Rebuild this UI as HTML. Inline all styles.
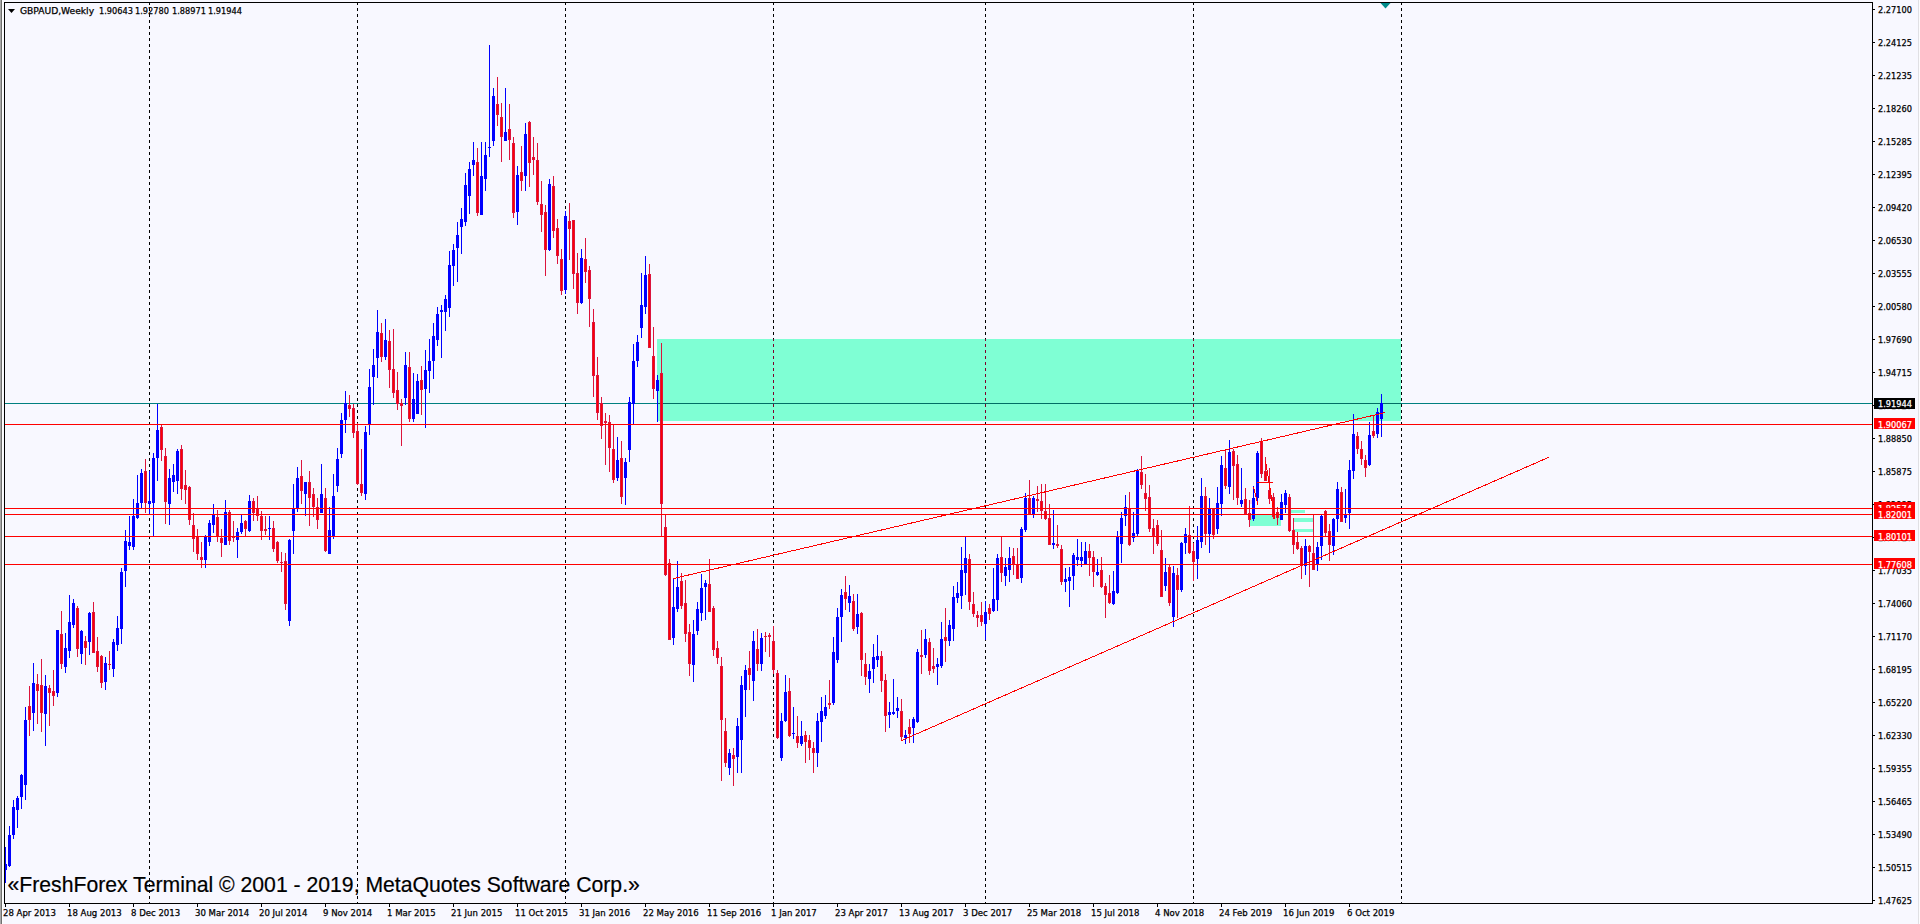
<!DOCTYPE html><html><head><meta charset="utf-8"><title>GBPAUD,Weekly</title><style>
html,body{margin:0;padding:0;background:#F8F8FF;overflow:hidden}
#c{position:relative;width:1920px;height:924px;background:#F8F8FF;overflow:hidden;font-family:"Liberation Sans",sans-serif}
svg{position:absolute;left:0;top:0}
.s{position:absolute;font-family:"DejaVu Sans Condensed","Liberation Sans",sans-serif;font-size:9.5px;line-height:12px;height:12px;white-space:pre;transform-origin:0 0;display:block;-webkit-text-stroke:.25px currentColor}
.n{transform:scaleX(.96)}.a{transform:scaleX(.96)}.g{transform:scaleX(1.07)}.d{transform:scaleX(1)}
.bx{position:absolute;left:1874px;width:41px;height:11px}
#wm{position:absolute;left:7.5px;top:873px;-webkit-text-stroke:.2px #000;font-size:21.2px;line-height:24px;white-space:pre;color:#000}
</style></head><body><div id="c">
<svg width="1920" height="924" viewBox="0 0 1920 924" shape-rendering="crispEdges">
<rect x="657" y="339" width="744" height="82" fill="#7FFFD4"/>
<rect x="1250" y="515" width="31" height="11" fill="#7FFFD4"/>
<rect x="1291" y="510" width="14" height="3" fill="#7FFFD4"/>
<rect x="1294" y="518" width="19" height="4" fill="#7FFFD4"/>
<rect x="1294" y="529" width="19" height="3" fill="#7FFFD4"/>
<rect x="1250" y="500" width="2" height="4" fill="#FAD4DC"/>
<line x1="149.5" y1="2" x2="149.5" y2="903" stroke="#000" stroke-dasharray="3 3"/>
<line x1="357.5" y1="2" x2="357.5" y2="903" stroke="#000" stroke-dasharray="3 3"/>
<line x1="565.5" y1="2" x2="565.5" y2="903" stroke="#000" stroke-dasharray="3 3"/>
<line x1="773.5" y1="2" x2="773.5" y2="903" stroke="#000" stroke-dasharray="3 3"/>
<line x1="985.5" y1="2" x2="985.5" y2="903" stroke="#000" stroke-dasharray="3 3"/>
<line x1="1193.5" y1="2" x2="1193.5" y2="903" stroke="#000" stroke-dasharray="3 3"/>
<line x1="1401.5" y1="2" x2="1401.5" y2="903" stroke="#000" stroke-dasharray="3 3"/>
<rect x="773" y="339" width="1" height="2" fill="#80002B"/>
<rect x="773" y="344" width="1" height="3" fill="#80002B"/>
<rect x="773" y="350" width="1" height="3" fill="#80002B"/>
<rect x="773" y="356" width="1" height="3" fill="#80002B"/>
<rect x="773" y="362" width="1" height="3" fill="#80002B"/>
<rect x="773" y="368" width="1" height="3" fill="#80002B"/>
<rect x="773" y="374" width="1" height="3" fill="#80002B"/>
<rect x="773" y="380" width="1" height="3" fill="#80002B"/>
<rect x="773" y="386" width="1" height="3" fill="#80002B"/>
<rect x="773" y="392" width="1" height="3" fill="#80002B"/>
<rect x="773" y="398" width="1" height="3" fill="#80002B"/>
<rect x="773" y="404" width="1" height="3" fill="#80002B"/>
<rect x="773" y="410" width="1" height="3" fill="#80002B"/>
<rect x="773" y="416" width="1" height="3" fill="#80002B"/>
<rect x="985" y="339" width="1" height="2" fill="#80002B"/>
<rect x="985" y="344" width="1" height="3" fill="#80002B"/>
<rect x="985" y="350" width="1" height="3" fill="#80002B"/>
<rect x="985" y="356" width="1" height="3" fill="#80002B"/>
<rect x="985" y="362" width="1" height="3" fill="#80002B"/>
<rect x="985" y="368" width="1" height="3" fill="#80002B"/>
<rect x="985" y="374" width="1" height="3" fill="#80002B"/>
<rect x="985" y="380" width="1" height="3" fill="#80002B"/>
<rect x="985" y="386" width="1" height="3" fill="#80002B"/>
<rect x="985" y="392" width="1" height="3" fill="#80002B"/>
<rect x="985" y="398" width="1" height="3" fill="#80002B"/>
<rect x="985" y="404" width="1" height="3" fill="#80002B"/>
<rect x="985" y="410" width="1" height="3" fill="#80002B"/>
<rect x="985" y="416" width="1" height="3" fill="#80002B"/>
<rect x="1193" y="339" width="1" height="2" fill="#80002B"/>
<rect x="1193" y="344" width="1" height="3" fill="#80002B"/>
<rect x="1193" y="350" width="1" height="3" fill="#80002B"/>
<rect x="1193" y="356" width="1" height="3" fill="#80002B"/>
<rect x="1193" y="362" width="1" height="3" fill="#80002B"/>
<rect x="1193" y="368" width="1" height="3" fill="#80002B"/>
<rect x="1193" y="374" width="1" height="3" fill="#80002B"/>
<rect x="1193" y="380" width="1" height="3" fill="#80002B"/>
<rect x="1193" y="386" width="1" height="3" fill="#80002B"/>
<rect x="1193" y="392" width="1" height="3" fill="#80002B"/>
<rect x="1193" y="398" width="1" height="3" fill="#80002B"/>
<rect x="1193" y="404" width="1" height="3" fill="#80002B"/>
<rect x="1193" y="410" width="1" height="3" fill="#80002B"/>
<rect x="1193" y="416" width="1" height="3" fill="#80002B"/>
<rect x="5" y="403" width="1867" height="1" fill="#008080"/>
<rect x="657" y="403" width="744" height="1" fill="#006E64"/>
<rect x="5" y="847" width="1" height="36" fill="#0000FF"/>
<rect x="4" y="864" width="3" height="6" fill="#0000FF"/>
<rect x="9" y="826" width="1" height="41" fill="#0000FF"/>
<rect x="8" y="835" width="3" height="31" fill="#0000FF"/>
<rect x="13" y="800" width="1" height="39" fill="#0000FF"/>
<rect x="12" y="807" width="3" height="28" fill="#0000FF"/>
<rect x="17" y="796" width="1" height="32" fill="#0000FF"/>
<rect x="16" y="798" width="3" height="12" fill="#0000FF"/>
<rect x="21" y="774" width="1" height="35" fill="#0000FF"/>
<rect x="20" y="775" width="3" height="22" fill="#0000FF"/>
<rect x="25" y="707" width="1" height="93" fill="#0000FF"/>
<rect x="24" y="720" width="3" height="65" fill="#0000FF"/>
<rect x="29" y="686" width="1" height="50" fill="#DC143C"/>
<rect x="28" y="706" width="3" height="14" fill="#DC143C"/>
<rect x="29" y="707" width="1" height="12" fill="#FF0000"/>
<rect x="33" y="663" width="1" height="68" fill="#0000FF"/>
<rect x="32" y="683" width="3" height="30" fill="#0000FF"/>
<rect x="37" y="674" width="1" height="50" fill="#DC143C"/>
<rect x="36" y="684" width="3" height="7" fill="#DC143C"/>
<rect x="37" y="685" width="1" height="5" fill="#FF0000"/>
<rect x="41" y="659" width="1" height="73" fill="#DC143C"/>
<rect x="40" y="685" width="3" height="28" fill="#DC143C"/>
<rect x="41" y="686" width="1" height="26" fill="#FF0000"/>
<rect x="45" y="675" width="1" height="71" fill="#0000FF"/>
<rect x="44" y="686" width="3" height="28" fill="#0000FF"/>
<rect x="49" y="685" width="1" height="41" fill="#DC143C"/>
<rect x="48" y="688" width="3" height="5" fill="#DC143C"/>
<rect x="49" y="689" width="1" height="3" fill="#FF0000"/>
<rect x="53" y="670" width="1" height="36" fill="#DC143C"/>
<rect x="52" y="691" width="3" height="5" fill="#DC143C"/>
<rect x="53" y="692" width="1" height="3" fill="#FF0000"/>
<rect x="57" y="630" width="1" height="67" fill="#0000FF"/>
<rect x="56" y="630" width="3" height="63" fill="#0000FF"/>
<rect x="61" y="611" width="1" height="58" fill="#DC143C"/>
<rect x="60" y="634" width="3" height="30" fill="#DC143C"/>
<rect x="61" y="635" width="1" height="28" fill="#FF0000"/>
<rect x="65" y="633" width="1" height="40" fill="#0000FF"/>
<rect x="64" y="648" width="3" height="19" fill="#0000FF"/>
<rect x="69" y="595" width="1" height="63" fill="#0000FF"/>
<rect x="68" y="622" width="3" height="29" fill="#0000FF"/>
<rect x="73" y="599" width="1" height="29" fill="#0000FF"/>
<rect x="72" y="603" width="3" height="22" fill="#0000FF"/>
<rect x="77" y="606" width="1" height="51" fill="#DC143C"/>
<rect x="76" y="608" width="3" height="41" fill="#DC143C"/>
<rect x="77" y="609" width="1" height="39" fill="#FF0000"/>
<rect x="81" y="630" width="1" height="34" fill="#0000FF"/>
<rect x="80" y="631" width="3" height="23" fill="#0000FF"/>
<rect x="85" y="636" width="1" height="29" fill="#DC143C"/>
<rect x="84" y="641" width="3" height="7" fill="#DC143C"/>
<rect x="85" y="642" width="1" height="5" fill="#FF0000"/>
<rect x="89" y="612" width="1" height="43" fill="#0000FF"/>
<rect x="88" y="613" width="3" height="29" fill="#0000FF"/>
<rect x="93" y="602" width="1" height="51" fill="#DC143C"/>
<rect x="92" y="612" width="3" height="41" fill="#DC143C"/>
<rect x="93" y="613" width="1" height="39" fill="#FF0000"/>
<rect x="97" y="637" width="1" height="35" fill="#DC143C"/>
<rect x="96" y="651" width="3" height="16" fill="#DC143C"/>
<rect x="97" y="652" width="1" height="14" fill="#FF0000"/>
<rect x="101" y="655" width="1" height="33" fill="#DC143C"/>
<rect x="100" y="656" width="3" height="27" fill="#DC143C"/>
<rect x="101" y="657" width="1" height="25" fill="#FF0000"/>
<rect x="105" y="657" width="1" height="33" fill="#0000FF"/>
<rect x="104" y="663" width="3" height="19" fill="#0000FF"/>
<rect x="109" y="651" width="1" height="19" fill="#DC143C"/>
<rect x="108" y="664" width="3" height="1" fill="#DC143C"/>
<rect x="113" y="639" width="1" height="38" fill="#0000FF"/>
<rect x="112" y="642" width="3" height="27" fill="#0000FF"/>
<rect x="117" y="616" width="1" height="35" fill="#0000FF"/>
<rect x="116" y="628" width="3" height="17" fill="#0000FF"/>
<rect x="121" y="568" width="1" height="76" fill="#0000FF"/>
<rect x="120" y="572" width="3" height="57" fill="#0000FF"/>
<rect x="125" y="530" width="1" height="57" fill="#0000FF"/>
<rect x="124" y="541" width="3" height="30" fill="#0000FF"/>
<rect x="129" y="516" width="1" height="34" fill="#0000FF"/>
<rect x="128" y="542" width="3" height="4" fill="#0000FF"/>
<rect x="133" y="499" width="1" height="51" fill="#0000FF"/>
<rect x="132" y="516" width="3" height="31" fill="#0000FF"/>
<rect x="137" y="475" width="1" height="44" fill="#0000FF"/>
<rect x="136" y="503" width="3" height="15" fill="#0000FF"/>
<rect x="141" y="469" width="1" height="39" fill="#0000FF"/>
<rect x="140" y="473" width="3" height="30" fill="#0000FF"/>
<rect x="145" y="459" width="1" height="54" fill="#DC143C"/>
<rect x="144" y="471" width="3" height="32" fill="#DC143C"/>
<rect x="145" y="472" width="1" height="30" fill="#FF0000"/>
<rect x="149" y="471" width="1" height="43" fill="#0000FF"/>
<rect x="148" y="501" width="3" height="3" fill="#0000FF"/>
<rect x="153" y="453" width="1" height="83" fill="#0000FF"/>
<rect x="152" y="458" width="3" height="45" fill="#0000FF"/>
<rect x="157" y="404" width="1" height="77" fill="#0000FF"/>
<rect x="156" y="430" width="3" height="28" fill="#0000FF"/>
<rect x="161" y="425" width="1" height="36" fill="#DC143C"/>
<rect x="160" y="427" width="3" height="23" fill="#DC143C"/>
<rect x="161" y="428" width="1" height="21" fill="#FF0000"/>
<rect x="165" y="448" width="1" height="76" fill="#DC143C"/>
<rect x="164" y="456" width="3" height="46" fill="#DC143C"/>
<rect x="165" y="457" width="1" height="44" fill="#FF0000"/>
<rect x="169" y="469" width="1" height="56" fill="#0000FF"/>
<rect x="168" y="478" width="3" height="26" fill="#0000FF"/>
<rect x="173" y="464" width="1" height="28" fill="#0000FF"/>
<rect x="172" y="475" width="3" height="7" fill="#0000FF"/>
<rect x="177" y="449" width="1" height="45" fill="#0000FF"/>
<rect x="176" y="451" width="3" height="30" fill="#0000FF"/>
<rect x="181" y="445" width="1" height="55" fill="#DC143C"/>
<rect x="180" y="449" width="3" height="40" fill="#DC143C"/>
<rect x="181" y="450" width="1" height="38" fill="#FF0000"/>
<rect x="185" y="470" width="1" height="34" fill="#DC143C"/>
<rect x="184" y="485" width="3" height="5" fill="#DC143C"/>
<rect x="185" y="486" width="1" height="3" fill="#FF0000"/>
<rect x="189" y="486" width="1" height="39" fill="#DC143C"/>
<rect x="188" y="487" width="3" height="33" fill="#DC143C"/>
<rect x="189" y="488" width="1" height="31" fill="#FF0000"/>
<rect x="193" y="513" width="1" height="39" fill="#DC143C"/>
<rect x="192" y="525" width="3" height="14" fill="#DC143C"/>
<rect x="193" y="526" width="1" height="12" fill="#FF0000"/>
<rect x="197" y="529" width="1" height="31" fill="#DC143C"/>
<rect x="196" y="536" width="3" height="18" fill="#DC143C"/>
<rect x="197" y="537" width="1" height="16" fill="#FF0000"/>
<rect x="201" y="542" width="1" height="26" fill="#DC143C"/>
<rect x="200" y="557" width="3" height="3" fill="#DC143C"/>
<rect x="201" y="558" width="1" height="1" fill="#FF0000"/>
<rect x="205" y="535" width="1" height="33" fill="#0000FF"/>
<rect x="204" y="536" width="3" height="24" fill="#0000FF"/>
<rect x="209" y="520" width="1" height="26" fill="#0000FF"/>
<rect x="208" y="523" width="3" height="19" fill="#0000FF"/>
<rect x="213" y="504" width="1" height="29" fill="#0000FF"/>
<rect x="212" y="515" width="3" height="10" fill="#0000FF"/>
<rect x="217" y="510" width="1" height="32" fill="#DC143C"/>
<rect x="216" y="517" width="3" height="20" fill="#DC143C"/>
<rect x="217" y="518" width="1" height="18" fill="#FF0000"/>
<rect x="221" y="529" width="1" height="28" fill="#DC143C"/>
<rect x="220" y="538" width="3" height="5" fill="#DC143C"/>
<rect x="221" y="539" width="1" height="3" fill="#FF0000"/>
<rect x="225" y="500" width="1" height="45" fill="#0000FF"/>
<rect x="224" y="512" width="3" height="33" fill="#0000FF"/>
<rect x="229" y="510" width="1" height="35" fill="#DC143C"/>
<rect x="228" y="512" width="3" height="29" fill="#DC143C"/>
<rect x="229" y="513" width="1" height="27" fill="#FF0000"/>
<rect x="233" y="521" width="1" height="21" fill="#DC143C"/>
<rect x="232" y="536" width="3" height="2" fill="#DC143C"/>
<rect x="237" y="528" width="1" height="30" fill="#0000FF"/>
<rect x="236" y="532" width="3" height="8" fill="#0000FF"/>
<rect x="241" y="515" width="1" height="19" fill="#0000FF"/>
<rect x="240" y="523" width="3" height="9" fill="#0000FF"/>
<rect x="245" y="520" width="1" height="16" fill="#DC143C"/>
<rect x="244" y="521" width="3" height="8" fill="#DC143C"/>
<rect x="245" y="522" width="1" height="6" fill="#FF0000"/>
<rect x="249" y="495" width="1" height="37" fill="#0000FF"/>
<rect x="248" y="501" width="3" height="30" fill="#0000FF"/>
<rect x="253" y="498" width="1" height="23" fill="#DC143C"/>
<rect x="252" y="501" width="3" height="12" fill="#DC143C"/>
<rect x="253" y="502" width="1" height="10" fill="#FF0000"/>
<rect x="257" y="496" width="1" height="25" fill="#DC143C"/>
<rect x="256" y="509" width="3" height="7" fill="#DC143C"/>
<rect x="257" y="510" width="1" height="5" fill="#FF0000"/>
<rect x="261" y="511" width="1" height="29" fill="#DC143C"/>
<rect x="260" y="516" width="3" height="15" fill="#DC143C"/>
<rect x="261" y="517" width="1" height="13" fill="#FF0000"/>
<rect x="265" y="516" width="1" height="19" fill="#DC143C"/>
<rect x="264" y="529" width="3" height="2" fill="#DC143C"/>
<rect x="269" y="516" width="1" height="24" fill="#0000FF"/>
<rect x="268" y="528" width="3" height="1" fill="#0000FF"/>
<rect x="273" y="521" width="1" height="31" fill="#DC143C"/>
<rect x="272" y="528" width="3" height="21" fill="#DC143C"/>
<rect x="273" y="529" width="1" height="19" fill="#FF0000"/>
<rect x="277" y="541" width="1" height="22" fill="#DC143C"/>
<rect x="276" y="542" width="3" height="19" fill="#DC143C"/>
<rect x="277" y="543" width="1" height="17" fill="#FF0000"/>
<rect x="281" y="552" width="1" height="20" fill="#DC143C"/>
<rect x="280" y="562" width="3" height="1" fill="#DC143C"/>
<rect x="285" y="553" width="1" height="57" fill="#DC143C"/>
<rect x="284" y="561" width="3" height="43" fill="#DC143C"/>
<rect x="285" y="562" width="1" height="41" fill="#FF0000"/>
<rect x="289" y="539" width="1" height="87" fill="#0000FF"/>
<rect x="288" y="540" width="3" height="81" fill="#0000FF"/>
<rect x="293" y="484" width="1" height="70" fill="#0000FF"/>
<rect x="292" y="508" width="3" height="23" fill="#0000FF"/>
<rect x="297" y="467" width="1" height="45" fill="#0000FF"/>
<rect x="296" y="478" width="3" height="30" fill="#0000FF"/>
<rect x="301" y="460" width="1" height="44" fill="#DC143C"/>
<rect x="300" y="476" width="3" height="15" fill="#DC143C"/>
<rect x="301" y="477" width="1" height="13" fill="#FF0000"/>
<rect x="305" y="482" width="1" height="34" fill="#0000FF"/>
<rect x="304" y="482" width="3" height="12" fill="#0000FF"/>
<rect x="309" y="471" width="1" height="55" fill="#DC143C"/>
<rect x="308" y="482" width="3" height="16" fill="#DC143C"/>
<rect x="309" y="483" width="1" height="14" fill="#FF0000"/>
<rect x="313" y="488" width="1" height="29" fill="#DC143C"/>
<rect x="312" y="494" width="3" height="13" fill="#DC143C"/>
<rect x="313" y="495" width="1" height="11" fill="#FF0000"/>
<rect x="317" y="498" width="1" height="31" fill="#DC143C"/>
<rect x="316" y="507" width="3" height="13" fill="#DC143C"/>
<rect x="317" y="508" width="1" height="11" fill="#FF0000"/>
<rect x="321" y="464" width="1" height="49" fill="#0000FF"/>
<rect x="320" y="494" width="3" height="19" fill="#0000FF"/>
<rect x="325" y="488" width="1" height="64" fill="#DC143C"/>
<rect x="324" y="498" width="3" height="53" fill="#DC143C"/>
<rect x="325" y="499" width="1" height="51" fill="#FF0000"/>
<rect x="329" y="507" width="1" height="47" fill="#0000FF"/>
<rect x="328" y="530" width="3" height="24" fill="#0000FF"/>
<rect x="333" y="474" width="1" height="65" fill="#0000FF"/>
<rect x="332" y="496" width="3" height="40" fill="#0000FF"/>
<rect x="337" y="448" width="1" height="44" fill="#0000FF"/>
<rect x="336" y="459" width="3" height="27" fill="#0000FF"/>
<rect x="341" y="413" width="1" height="45" fill="#0000FF"/>
<rect x="340" y="420" width="3" height="34" fill="#0000FF"/>
<rect x="345" y="391" width="1" height="42" fill="#0000FF"/>
<rect x="344" y="403" width="3" height="17" fill="#0000FF"/>
<rect x="349" y="395" width="1" height="22" fill="#DC143C"/>
<rect x="348" y="405" width="3" height="4" fill="#DC143C"/>
<rect x="349" y="406" width="1" height="2" fill="#FF0000"/>
<rect x="353" y="404" width="1" height="34" fill="#DC143C"/>
<rect x="352" y="408" width="3" height="25" fill="#DC143C"/>
<rect x="353" y="409" width="1" height="23" fill="#FF0000"/>
<rect x="357" y="423" width="1" height="62" fill="#DC143C"/>
<rect x="356" y="431" width="3" height="53" fill="#DC143C"/>
<rect x="357" y="432" width="1" height="51" fill="#FF0000"/>
<rect x="361" y="449" width="1" height="47" fill="#DC143C"/>
<rect x="360" y="484" width="3" height="9" fill="#DC143C"/>
<rect x="361" y="485" width="1" height="7" fill="#FF0000"/>
<rect x="365" y="426" width="1" height="74" fill="#0000FF"/>
<rect x="364" y="432" width="3" height="62" fill="#0000FF"/>
<rect x="369" y="369" width="1" height="66" fill="#0000FF"/>
<rect x="368" y="387" width="3" height="37" fill="#0000FF"/>
<rect x="373" y="349" width="1" height="56" fill="#0000FF"/>
<rect x="372" y="365" width="3" height="12" fill="#0000FF"/>
<rect x="377" y="310" width="1" height="68" fill="#0000FF"/>
<rect x="376" y="332" width="3" height="26" fill="#0000FF"/>
<rect x="381" y="323" width="1" height="39" fill="#DC143C"/>
<rect x="380" y="333" width="3" height="24" fill="#DC143C"/>
<rect x="381" y="334" width="1" height="22" fill="#FF0000"/>
<rect x="385" y="319" width="1" height="41" fill="#0000FF"/>
<rect x="384" y="340" width="3" height="17" fill="#0000FF"/>
<rect x="389" y="330" width="1" height="58" fill="#DC143C"/>
<rect x="388" y="341" width="3" height="29" fill="#DC143C"/>
<rect x="389" y="342" width="1" height="27" fill="#FF0000"/>
<rect x="393" y="329" width="1" height="69" fill="#DC143C"/>
<rect x="392" y="369" width="3" height="24" fill="#DC143C"/>
<rect x="393" y="370" width="1" height="22" fill="#FF0000"/>
<rect x="397" y="372" width="1" height="38" fill="#DC143C"/>
<rect x="396" y="390" width="3" height="14" fill="#DC143C"/>
<rect x="397" y="391" width="1" height="12" fill="#FF0000"/>
<rect x="401" y="399" width="1" height="47" fill="#DC143C"/>
<rect x="400" y="403" width="3" height="3" fill="#DC143C"/>
<rect x="401" y="404" width="1" height="1" fill="#FF0000"/>
<rect x="405" y="352" width="1" height="53" fill="#0000FF"/>
<rect x="404" y="365" width="3" height="33" fill="#0000FF"/>
<rect x="409" y="352" width="1" height="70" fill="#DC143C"/>
<rect x="408" y="367" width="3" height="52" fill="#DC143C"/>
<rect x="409" y="368" width="1" height="50" fill="#FF0000"/>
<rect x="413" y="373" width="1" height="49" fill="#0000FF"/>
<rect x="412" y="399" width="3" height="20" fill="#0000FF"/>
<rect x="417" y="374" width="1" height="40" fill="#0000FF"/>
<rect x="416" y="381" width="3" height="33" fill="#0000FF"/>
<rect x="421" y="366" width="1" height="49" fill="#DC143C"/>
<rect x="420" y="380" width="3" height="10" fill="#DC143C"/>
<rect x="421" y="381" width="1" height="8" fill="#FF0000"/>
<rect x="425" y="350" width="1" height="78" fill="#0000FF"/>
<rect x="424" y="370" width="3" height="19" fill="#0000FF"/>
<rect x="429" y="339" width="1" height="54" fill="#0000FF"/>
<rect x="428" y="361" width="3" height="10" fill="#0000FF"/>
<rect x="433" y="323" width="1" height="56" fill="#0000FF"/>
<rect x="432" y="336" width="3" height="25" fill="#0000FF"/>
<rect x="437" y="307" width="1" height="39" fill="#0000FF"/>
<rect x="436" y="314" width="3" height="26" fill="#0000FF"/>
<rect x="441" y="305" width="1" height="53" fill="#0000FF"/>
<rect x="440" y="310" width="3" height="2" fill="#0000FF"/>
<rect x="445" y="295" width="1" height="36" fill="#0000FF"/>
<rect x="444" y="299" width="3" height="13" fill="#0000FF"/>
<rect x="449" y="251" width="1" height="66" fill="#0000FF"/>
<rect x="448" y="265" width="3" height="43" fill="#0000FF"/>
<rect x="453" y="244" width="1" height="42" fill="#0000FF"/>
<rect x="452" y="250" width="3" height="16" fill="#0000FF"/>
<rect x="457" y="222" width="1" height="60" fill="#0000FF"/>
<rect x="456" y="235" width="3" height="13" fill="#0000FF"/>
<rect x="461" y="208" width="1" height="46" fill="#0000FF"/>
<rect x="460" y="219" width="3" height="8" fill="#0000FF"/>
<rect x="465" y="173" width="1" height="53" fill="#0000FF"/>
<rect x="464" y="185" width="3" height="37" fill="#0000FF"/>
<rect x="469" y="162" width="1" height="52" fill="#0000FF"/>
<rect x="468" y="169" width="3" height="27" fill="#0000FF"/>
<rect x="473" y="142" width="1" height="34" fill="#0000FF"/>
<rect x="472" y="160" width="3" height="5" fill="#0000FF"/>
<rect x="477" y="148" width="1" height="68" fill="#DC143C"/>
<rect x="476" y="162" width="3" height="51" fill="#DC143C"/>
<rect x="477" y="163" width="1" height="49" fill="#FF0000"/>
<rect x="481" y="142" width="1" height="73" fill="#0000FF"/>
<rect x="480" y="176" width="3" height="39" fill="#0000FF"/>
<rect x="485" y="142" width="1" height="49" fill="#0000FF"/>
<rect x="484" y="155" width="3" height="24" fill="#0000FF"/>
<rect x="489" y="45" width="1" height="112" fill="#0000FF"/>
<rect x="488" y="147" width="3" height="1" fill="#0000FF"/>
<rect x="493" y="88" width="1" height="58" fill="#0000FF"/>
<rect x="492" y="96" width="3" height="45" fill="#0000FF"/>
<rect x="497" y="77" width="1" height="49" fill="#DC143C"/>
<rect x="496" y="104" width="3" height="11" fill="#DC143C"/>
<rect x="497" y="105" width="1" height="9" fill="#FF0000"/>
<rect x="501" y="103" width="1" height="59" fill="#DC143C"/>
<rect x="500" y="117" width="3" height="20" fill="#DC143C"/>
<rect x="501" y="118" width="1" height="18" fill="#FF0000"/>
<rect x="505" y="88" width="1" height="53" fill="#0000FF"/>
<rect x="504" y="132" width="3" height="9" fill="#0000FF"/>
<rect x="509" y="104" width="1" height="56" fill="#DC143C"/>
<rect x="508" y="129" width="3" height="11" fill="#DC143C"/>
<rect x="509" y="130" width="1" height="9" fill="#FF0000"/>
<rect x="513" y="137" width="1" height="81" fill="#DC143C"/>
<rect x="512" y="143" width="3" height="70" fill="#DC143C"/>
<rect x="513" y="144" width="1" height="68" fill="#FF0000"/>
<rect x="517" y="166" width="1" height="59" fill="#0000FF"/>
<rect x="516" y="175" width="3" height="37" fill="#0000FF"/>
<rect x="521" y="146" width="1" height="45" fill="#DC143C"/>
<rect x="520" y="172" width="3" height="9" fill="#DC143C"/>
<rect x="521" y="173" width="1" height="7" fill="#FF0000"/>
<rect x="525" y="123" width="1" height="68" fill="#0000FF"/>
<rect x="524" y="134" width="3" height="42" fill="#0000FF"/>
<rect x="529" y="121" width="1" height="66" fill="#DC143C"/>
<rect x="528" y="122" width="3" height="41" fill="#DC143C"/>
<rect x="529" y="123" width="1" height="39" fill="#FF0000"/>
<rect x="533" y="137" width="1" height="38" fill="#DC143C"/>
<rect x="532" y="157" width="3" height="3" fill="#DC143C"/>
<rect x="533" y="158" width="1" height="1" fill="#FF0000"/>
<rect x="537" y="143" width="1" height="62" fill="#DC143C"/>
<rect x="536" y="160" width="3" height="42" fill="#DC143C"/>
<rect x="537" y="161" width="1" height="40" fill="#FF0000"/>
<rect x="541" y="181" width="1" height="51" fill="#DC143C"/>
<rect x="540" y="204" width="3" height="11" fill="#DC143C"/>
<rect x="541" y="205" width="1" height="9" fill="#FF0000"/>
<rect x="545" y="205" width="1" height="71" fill="#DC143C"/>
<rect x="544" y="212" width="3" height="38" fill="#DC143C"/>
<rect x="545" y="213" width="1" height="36" fill="#FF0000"/>
<rect x="549" y="179" width="1" height="72" fill="#0000FF"/>
<rect x="548" y="184" width="3" height="66" fill="#0000FF"/>
<rect x="553" y="176" width="1" height="62" fill="#DC143C"/>
<rect x="552" y="186" width="3" height="45" fill="#DC143C"/>
<rect x="553" y="187" width="1" height="43" fill="#FF0000"/>
<rect x="557" y="219" width="1" height="45" fill="#DC143C"/>
<rect x="556" y="228" width="3" height="28" fill="#DC143C"/>
<rect x="557" y="229" width="1" height="26" fill="#FF0000"/>
<rect x="561" y="249" width="1" height="46" fill="#DC143C"/>
<rect x="560" y="259" width="3" height="32" fill="#DC143C"/>
<rect x="561" y="260" width="1" height="30" fill="#FF0000"/>
<rect x="565" y="211" width="1" height="83" fill="#0000FF"/>
<rect x="564" y="216" width="3" height="74" fill="#0000FF"/>
<rect x="569" y="203" width="1" height="57" fill="#DC143C"/>
<rect x="568" y="221" width="3" height="8" fill="#DC143C"/>
<rect x="569" y="222" width="1" height="6" fill="#FF0000"/>
<rect x="573" y="220" width="1" height="69" fill="#DC143C"/>
<rect x="572" y="220" width="3" height="54" fill="#DC143C"/>
<rect x="573" y="221" width="1" height="52" fill="#FF0000"/>
<rect x="577" y="253" width="1" height="61" fill="#DC143C"/>
<rect x="576" y="273" width="3" height="30" fill="#DC143C"/>
<rect x="577" y="274" width="1" height="28" fill="#FF0000"/>
<rect x="581" y="249" width="1" height="55" fill="#0000FF"/>
<rect x="580" y="258" width="3" height="45" fill="#0000FF"/>
<rect x="585" y="238" width="1" height="45" fill="#DC143C"/>
<rect x="584" y="259" width="3" height="13" fill="#DC143C"/>
<rect x="585" y="260" width="1" height="11" fill="#FF0000"/>
<rect x="589" y="266" width="1" height="61" fill="#DC143C"/>
<rect x="588" y="270" width="3" height="29" fill="#DC143C"/>
<rect x="589" y="271" width="1" height="27" fill="#FF0000"/>
<rect x="593" y="309" width="1" height="88" fill="#DC143C"/>
<rect x="592" y="322" width="3" height="54" fill="#DC143C"/>
<rect x="593" y="323" width="1" height="52" fill="#FF0000"/>
<rect x="597" y="357" width="1" height="63" fill="#DC143C"/>
<rect x="596" y="375" width="3" height="38" fill="#DC143C"/>
<rect x="597" y="376" width="1" height="36" fill="#FF0000"/>
<rect x="601" y="397" width="1" height="42" fill="#DC143C"/>
<rect x="600" y="403" width="3" height="23" fill="#DC143C"/>
<rect x="601" y="404" width="1" height="21" fill="#FF0000"/>
<rect x="605" y="413" width="1" height="52" fill="#DC143C"/>
<rect x="604" y="421" width="3" height="2" fill="#DC143C"/>
<rect x="609" y="415" width="1" height="57" fill="#DC143C"/>
<rect x="608" y="422" width="3" height="26" fill="#DC143C"/>
<rect x="609" y="423" width="1" height="24" fill="#FF0000"/>
<rect x="613" y="425" width="1" height="58" fill="#DC143C"/>
<rect x="612" y="449" width="3" height="31" fill="#DC143C"/>
<rect x="613" y="450" width="1" height="29" fill="#FF0000"/>
<rect x="617" y="437" width="1" height="44" fill="#0000FF"/>
<rect x="616" y="460" width="3" height="18" fill="#0000FF"/>
<rect x="621" y="441" width="1" height="63" fill="#DC143C"/>
<rect x="620" y="458" width="3" height="39" fill="#DC143C"/>
<rect x="621" y="459" width="1" height="37" fill="#FF0000"/>
<rect x="625" y="458" width="1" height="47" fill="#0000FF"/>
<rect x="624" y="462" width="3" height="16" fill="#0000FF"/>
<rect x="629" y="397" width="1" height="65" fill="#0000FF"/>
<rect x="628" y="402" width="3" height="48" fill="#0000FF"/>
<rect x="633" y="344" width="1" height="80" fill="#0000FF"/>
<rect x="632" y="361" width="3" height="43" fill="#0000FF"/>
<rect x="637" y="335" width="1" height="32" fill="#0000FF"/>
<rect x="636" y="342" width="3" height="19" fill="#0000FF"/>
<rect x="641" y="273" width="1" height="65" fill="#0000FF"/>
<rect x="640" y="305" width="3" height="23" fill="#0000FF"/>
<rect x="645" y="256" width="1" height="58" fill="#0000FF"/>
<rect x="644" y="275" width="3" height="32" fill="#0000FF"/>
<rect x="649" y="264" width="1" height="84" fill="#DC143C"/>
<rect x="648" y="274" width="3" height="74" fill="#DC143C"/>
<rect x="649" y="275" width="1" height="72" fill="#FF0000"/>
<rect x="653" y="327" width="1" height="72" fill="#DC143C"/>
<rect x="652" y="356" width="3" height="33" fill="#DC143C"/>
<rect x="653" y="357" width="1" height="31" fill="#FF0000"/>
<rect x="657" y="375" width="1" height="47" fill="#0000FF"/>
<rect x="656" y="380" width="3" height="11" fill="#0000FF"/>
<rect x="661" y="343" width="1" height="193" fill="#DC143C"/>
<rect x="660" y="373" width="3" height="131" fill="#DC143C"/>
<rect x="661" y="374" width="1" height="129" fill="#FF0000"/>
<rect x="665" y="514" width="1" height="62" fill="#DC143C"/>
<rect x="664" y="527" width="3" height="48" fill="#DC143C"/>
<rect x="665" y="528" width="1" height="46" fill="#FF0000"/>
<rect x="669" y="559" width="1" height="81" fill="#DC143C"/>
<rect x="668" y="563" width="3" height="77" fill="#DC143C"/>
<rect x="669" y="564" width="1" height="75" fill="#FF0000"/>
<rect x="673" y="579" width="1" height="66" fill="#0000FF"/>
<rect x="672" y="607" width="3" height="31" fill="#0000FF"/>
<rect x="677" y="561" width="1" height="51" fill="#0000FF"/>
<rect x="676" y="587" width="3" height="22" fill="#0000FF"/>
<rect x="681" y="573" width="1" height="36" fill="#DC143C"/>
<rect x="680" y="581" width="3" height="25" fill="#DC143C"/>
<rect x="681" y="582" width="1" height="23" fill="#FF0000"/>
<rect x="685" y="580" width="1" height="62" fill="#DC143C"/>
<rect x="684" y="603" width="3" height="31" fill="#DC143C"/>
<rect x="685" y="604" width="1" height="29" fill="#FF0000"/>
<rect x="689" y="624" width="1" height="52" fill="#DC143C"/>
<rect x="688" y="632" width="3" height="32" fill="#DC143C"/>
<rect x="689" y="633" width="1" height="30" fill="#FF0000"/>
<rect x="693" y="620" width="1" height="62" fill="#0000FF"/>
<rect x="692" y="634" width="3" height="31" fill="#0000FF"/>
<rect x="697" y="602" width="1" height="33" fill="#0000FF"/>
<rect x="696" y="609" width="3" height="22" fill="#0000FF"/>
<rect x="701" y="574" width="1" height="47" fill="#0000FF"/>
<rect x="700" y="588" width="3" height="25" fill="#0000FF"/>
<rect x="705" y="580" width="1" height="40" fill="#0000FF"/>
<rect x="704" y="583" width="3" height="4" fill="#0000FF"/>
<rect x="709" y="559" width="1" height="53" fill="#DC143C"/>
<rect x="708" y="584" width="3" height="28" fill="#DC143C"/>
<rect x="709" y="585" width="1" height="26" fill="#FF0000"/>
<rect x="713" y="606" width="1" height="50" fill="#DC143C"/>
<rect x="712" y="608" width="3" height="42" fill="#DC143C"/>
<rect x="713" y="609" width="1" height="40" fill="#FF0000"/>
<rect x="717" y="641" width="1" height="23" fill="#DC143C"/>
<rect x="716" y="648" width="3" height="10" fill="#DC143C"/>
<rect x="717" y="649" width="1" height="8" fill="#FF0000"/>
<rect x="721" y="657" width="1" height="124" fill="#DC143C"/>
<rect x="720" y="666" width="3" height="54" fill="#DC143C"/>
<rect x="721" y="667" width="1" height="52" fill="#FF0000"/>
<rect x="725" y="718" width="1" height="49" fill="#DC143C"/>
<rect x="724" y="731" width="3" height="32" fill="#DC143C"/>
<rect x="725" y="732" width="1" height="30" fill="#FF0000"/>
<rect x="729" y="749" width="1" height="26" fill="#0000FF"/>
<rect x="728" y="753" width="3" height="15" fill="#0000FF"/>
<rect x="733" y="748" width="1" height="38" fill="#DC143C"/>
<rect x="732" y="755" width="3" height="4" fill="#DC143C"/>
<rect x="733" y="756" width="1" height="2" fill="#FF0000"/>
<rect x="737" y="718" width="1" height="55" fill="#0000FF"/>
<rect x="736" y="726" width="3" height="31" fill="#0000FF"/>
<rect x="741" y="676" width="1" height="97" fill="#0000FF"/>
<rect x="740" y="685" width="3" height="55" fill="#0000FF"/>
<rect x="745" y="665" width="1" height="52" fill="#0000FF"/>
<rect x="744" y="670" width="3" height="20" fill="#0000FF"/>
<rect x="749" y="651" width="1" height="39" fill="#DC143C"/>
<rect x="748" y="668" width="3" height="7" fill="#DC143C"/>
<rect x="749" y="669" width="1" height="5" fill="#FF0000"/>
<rect x="753" y="631" width="1" height="70" fill="#0000FF"/>
<rect x="752" y="641" width="3" height="40" fill="#0000FF"/>
<rect x="757" y="629" width="1" height="42" fill="#DC143C"/>
<rect x="756" y="649" width="3" height="15" fill="#DC143C"/>
<rect x="757" y="650" width="1" height="13" fill="#FF0000"/>
<rect x="761" y="633" width="1" height="38" fill="#0000FF"/>
<rect x="760" y="638" width="3" height="26" fill="#0000FF"/>
<rect x="765" y="632" width="1" height="20" fill="#DC143C"/>
<rect x="764" y="636" width="3" height="1" fill="#DC143C"/>
<rect x="769" y="633" width="1" height="24" fill="#DC143C"/>
<rect x="768" y="635" width="3" height="2" fill="#DC143C"/>
<rect x="773" y="626" width="1" height="48" fill="#DC143C"/>
<rect x="772" y="641" width="3" height="29" fill="#DC143C"/>
<rect x="773" y="642" width="1" height="27" fill="#FF0000"/>
<rect x="777" y="670" width="1" height="69" fill="#DC143C"/>
<rect x="776" y="673" width="3" height="65" fill="#DC143C"/>
<rect x="777" y="674" width="1" height="63" fill="#FF0000"/>
<rect x="781" y="713" width="1" height="48" fill="#0000FF"/>
<rect x="780" y="721" width="3" height="37" fill="#0000FF"/>
<rect x="785" y="675" width="1" height="47" fill="#0000FF"/>
<rect x="784" y="692" width="3" height="29" fill="#0000FF"/>
<rect x="789" y="678" width="1" height="59" fill="#DC143C"/>
<rect x="788" y="691" width="3" height="45" fill="#DC143C"/>
<rect x="789" y="692" width="1" height="43" fill="#FF0000"/>
<rect x="793" y="707" width="1" height="32" fill="#0000FF"/>
<rect x="792" y="733" width="3" height="1" fill="#0000FF"/>
<rect x="797" y="716" width="1" height="32" fill="#DC143C"/>
<rect x="796" y="736" width="3" height="7" fill="#DC143C"/>
<rect x="797" y="737" width="1" height="5" fill="#FF0000"/>
<rect x="801" y="721" width="1" height="25" fill="#0000FF"/>
<rect x="800" y="736" width="3" height="8" fill="#0000FF"/>
<rect x="805" y="731" width="1" height="32" fill="#DC143C"/>
<rect x="804" y="735" width="3" height="7" fill="#DC143C"/>
<rect x="805" y="736" width="1" height="5" fill="#FF0000"/>
<rect x="809" y="735" width="1" height="25" fill="#DC143C"/>
<rect x="808" y="740" width="3" height="8" fill="#DC143C"/>
<rect x="809" y="741" width="1" height="6" fill="#FF0000"/>
<rect x="813" y="742" width="1" height="31" fill="#DC143C"/>
<rect x="812" y="748" width="3" height="5" fill="#DC143C"/>
<rect x="813" y="749" width="1" height="3" fill="#FF0000"/>
<rect x="817" y="713" width="1" height="54" fill="#0000FF"/>
<rect x="816" y="721" width="3" height="32" fill="#0000FF"/>
<rect x="821" y="697" width="1" height="45" fill="#0000FF"/>
<rect x="820" y="711" width="3" height="11" fill="#0000FF"/>
<rect x="825" y="695" width="1" height="24" fill="#0000FF"/>
<rect x="824" y="707" width="3" height="9" fill="#0000FF"/>
<rect x="829" y="680" width="1" height="29" fill="#DC143C"/>
<rect x="828" y="703" width="3" height="2" fill="#DC143C"/>
<rect x="833" y="637" width="1" height="68" fill="#0000FF"/>
<rect x="832" y="652" width="3" height="51" fill="#0000FF"/>
<rect x="837" y="608" width="1" height="55" fill="#0000FF"/>
<rect x="836" y="617" width="3" height="43" fill="#0000FF"/>
<rect x="841" y="589" width="1" height="53" fill="#0000FF"/>
<rect x="840" y="595" width="3" height="22" fill="#0000FF"/>
<rect x="845" y="576" width="1" height="34" fill="#DC143C"/>
<rect x="844" y="592" width="3" height="7" fill="#DC143C"/>
<rect x="845" y="593" width="1" height="5" fill="#FF0000"/>
<rect x="849" y="585" width="1" height="27" fill="#0000FF"/>
<rect x="848" y="596" width="3" height="7" fill="#0000FF"/>
<rect x="853" y="594" width="1" height="37" fill="#DC143C"/>
<rect x="852" y="601" width="3" height="28" fill="#DC143C"/>
<rect x="853" y="602" width="1" height="26" fill="#FF0000"/>
<rect x="857" y="594" width="1" height="40" fill="#0000FF"/>
<rect x="856" y="614" width="3" height="13" fill="#0000FF"/>
<rect x="861" y="612" width="1" height="64" fill="#DC143C"/>
<rect x="860" y="613" width="3" height="47" fill="#DC143C"/>
<rect x="861" y="614" width="1" height="45" fill="#FF0000"/>
<rect x="865" y="653" width="1" height="32" fill="#DC143C"/>
<rect x="864" y="664" width="3" height="13" fill="#DC143C"/>
<rect x="865" y="665" width="1" height="11" fill="#FF0000"/>
<rect x="869" y="664" width="1" height="29" fill="#0000FF"/>
<rect x="868" y="671" width="3" height="8" fill="#0000FF"/>
<rect x="873" y="644" width="1" height="39" fill="#0000FF"/>
<rect x="872" y="657" width="3" height="12" fill="#0000FF"/>
<rect x="877" y="635" width="1" height="32" fill="#0000FF"/>
<rect x="876" y="656" width="3" height="4" fill="#0000FF"/>
<rect x="881" y="651" width="1" height="41" fill="#DC143C"/>
<rect x="880" y="656" width="3" height="25" fill="#DC143C"/>
<rect x="881" y="657" width="1" height="23" fill="#FF0000"/>
<rect x="885" y="674" width="1" height="58" fill="#DC143C"/>
<rect x="884" y="680" width="3" height="36" fill="#DC143C"/>
<rect x="885" y="681" width="1" height="34" fill="#FF0000"/>
<rect x="889" y="702" width="1" height="26" fill="#0000FF"/>
<rect x="888" y="712" width="3" height="3" fill="#0000FF"/>
<rect x="893" y="679" width="1" height="36" fill="#0000FF"/>
<rect x="892" y="712" width="3" height="2" fill="#0000FF"/>
<rect x="897" y="697" width="1" height="21" fill="#0000FF"/>
<rect x="896" y="708" width="3" height="3" fill="#0000FF"/>
<rect x="901" y="699" width="1" height="42" fill="#DC143C"/>
<rect x="900" y="711" width="3" height="26" fill="#DC143C"/>
<rect x="901" y="712" width="1" height="24" fill="#FF0000"/>
<rect x="905" y="730" width="1" height="14" fill="#0000FF"/>
<rect x="904" y="735" width="3" height="3" fill="#0000FF"/>
<rect x="909" y="719" width="1" height="24" fill="#DC143C"/>
<rect x="908" y="727" width="3" height="7" fill="#DC143C"/>
<rect x="909" y="728" width="1" height="5" fill="#FF0000"/>
<rect x="913" y="717" width="1" height="26" fill="#0000FF"/>
<rect x="912" y="719" width="3" height="9" fill="#0000FF"/>
<rect x="917" y="649" width="1" height="74" fill="#0000FF"/>
<rect x="916" y="652" width="3" height="70" fill="#0000FF"/>
<rect x="921" y="630" width="1" height="44" fill="#DC143C"/>
<rect x="920" y="655" width="3" height="2" fill="#DC143C"/>
<rect x="925" y="629" width="1" height="29" fill="#0000FF"/>
<rect x="924" y="639" width="3" height="16" fill="#0000FF"/>
<rect x="929" y="638" width="1" height="37" fill="#DC143C"/>
<rect x="928" y="642" width="3" height="29" fill="#DC143C"/>
<rect x="929" y="643" width="1" height="27" fill="#FF0000"/>
<rect x="933" y="648" width="1" height="25" fill="#DC143C"/>
<rect x="932" y="666" width="3" height="3" fill="#DC143C"/>
<rect x="933" y="667" width="1" height="1" fill="#FF0000"/>
<rect x="937" y="658" width="1" height="27" fill="#0000FF"/>
<rect x="936" y="664" width="3" height="3" fill="#0000FF"/>
<rect x="941" y="622" width="1" height="46" fill="#0000FF"/>
<rect x="940" y="639" width="3" height="27" fill="#0000FF"/>
<rect x="945" y="608" width="1" height="54" fill="#DC143C"/>
<rect x="944" y="637" width="3" height="4" fill="#DC143C"/>
<rect x="945" y="638" width="1" height="2" fill="#FF0000"/>
<rect x="949" y="620" width="1" height="26" fill="#0000FF"/>
<rect x="948" y="625" width="3" height="16" fill="#0000FF"/>
<rect x="953" y="586" width="1" height="55" fill="#0000FF"/>
<rect x="952" y="597" width="3" height="32" fill="#0000FF"/>
<rect x="957" y="582" width="1" height="21" fill="#0000FF"/>
<rect x="956" y="593" width="3" height="5" fill="#0000FF"/>
<rect x="961" y="547" width="1" height="62" fill="#0000FF"/>
<rect x="960" y="570" width="3" height="26" fill="#0000FF"/>
<rect x="965" y="537" width="1" height="58" fill="#0000FF"/>
<rect x="964" y="558" width="3" height="15" fill="#0000FF"/>
<rect x="969" y="554" width="1" height="56" fill="#DC143C"/>
<rect x="968" y="559" width="3" height="43" fill="#DC143C"/>
<rect x="969" y="560" width="1" height="41" fill="#FF0000"/>
<rect x="973" y="592" width="1" height="25" fill="#DC143C"/>
<rect x="972" y="604" width="3" height="10" fill="#DC143C"/>
<rect x="973" y="605" width="1" height="8" fill="#FF0000"/>
<rect x="977" y="611" width="1" height="16" fill="#DC143C"/>
<rect x="976" y="615" width="3" height="3" fill="#DC143C"/>
<rect x="977" y="616" width="1" height="1" fill="#FF0000"/>
<rect x="981" y="602" width="1" height="24" fill="#DC143C"/>
<rect x="980" y="615" width="3" height="7" fill="#DC143C"/>
<rect x="981" y="616" width="1" height="5" fill="#FF0000"/>
<rect x="985" y="601" width="1" height="39" fill="#0000FF"/>
<rect x="984" y="612" width="3" height="12" fill="#0000FF"/>
<rect x="989" y="604" width="1" height="16" fill="#DC143C"/>
<rect x="988" y="608" width="3" height="6" fill="#DC143C"/>
<rect x="989" y="609" width="1" height="4" fill="#FF0000"/>
<rect x="993" y="568" width="1" height="44" fill="#0000FF"/>
<rect x="992" y="599" width="3" height="12" fill="#0000FF"/>
<rect x="997" y="554" width="1" height="57" fill="#0000FF"/>
<rect x="996" y="558" width="3" height="42" fill="#0000FF"/>
<rect x="1001" y="537" width="1" height="45" fill="#DC143C"/>
<rect x="1000" y="557" width="3" height="16" fill="#DC143C"/>
<rect x="1001" y="558" width="1" height="14" fill="#FF0000"/>
<rect x="1005" y="558" width="1" height="28" fill="#0000FF"/>
<rect x="1004" y="567" width="3" height="9" fill="#0000FF"/>
<rect x="1009" y="547" width="1" height="35" fill="#0000FF"/>
<rect x="1008" y="558" width="3" height="12" fill="#0000FF"/>
<rect x="1013" y="548" width="1" height="27" fill="#DC143C"/>
<rect x="1012" y="556" width="3" height="8" fill="#DC143C"/>
<rect x="1013" y="557" width="1" height="6" fill="#FF0000"/>
<rect x="1017" y="548" width="1" height="31" fill="#DC143C"/>
<rect x="1016" y="564" width="3" height="15" fill="#DC143C"/>
<rect x="1017" y="565" width="1" height="13" fill="#FF0000"/>
<rect x="1021" y="527" width="1" height="56" fill="#0000FF"/>
<rect x="1020" y="529" width="3" height="49" fill="#0000FF"/>
<rect x="1025" y="493" width="1" height="39" fill="#0000FF"/>
<rect x="1024" y="498" width="3" height="32" fill="#0000FF"/>
<rect x="1029" y="480" width="1" height="34" fill="#DC143C"/>
<rect x="1028" y="498" width="3" height="16" fill="#DC143C"/>
<rect x="1029" y="499" width="1" height="14" fill="#FF0000"/>
<rect x="1033" y="496" width="1" height="22" fill="#0000FF"/>
<rect x="1032" y="498" width="3" height="16" fill="#0000FF"/>
<rect x="1037" y="486" width="1" height="26" fill="#DC143C"/>
<rect x="1036" y="499" width="3" height="2" fill="#DC143C"/>
<rect x="1041" y="484" width="1" height="35" fill="#DC143C"/>
<rect x="1040" y="501" width="3" height="10" fill="#DC143C"/>
<rect x="1041" y="502" width="1" height="8" fill="#FF0000"/>
<rect x="1045" y="484" width="1" height="36" fill="#DC143C"/>
<rect x="1044" y="511" width="3" height="8" fill="#DC143C"/>
<rect x="1045" y="512" width="1" height="6" fill="#FF0000"/>
<rect x="1049" y="504" width="1" height="41" fill="#DC143C"/>
<rect x="1048" y="518" width="3" height="27" fill="#DC143C"/>
<rect x="1049" y="519" width="1" height="25" fill="#FF0000"/>
<rect x="1053" y="510" width="1" height="39" fill="#0000FF"/>
<rect x="1052" y="543" width="3" height="2" fill="#0000FF"/>
<rect x="1057" y="525" width="1" height="23" fill="#DC143C"/>
<rect x="1056" y="544" width="3" height="2" fill="#DC143C"/>
<rect x="1061" y="545" width="1" height="40" fill="#DC143C"/>
<rect x="1060" y="549" width="3" height="33" fill="#DC143C"/>
<rect x="1061" y="550" width="1" height="31" fill="#FF0000"/>
<rect x="1065" y="568" width="1" height="24" fill="#0000FF"/>
<rect x="1064" y="579" width="3" height="3" fill="#0000FF"/>
<rect x="1069" y="567" width="1" height="40" fill="#0000FF"/>
<rect x="1068" y="577" width="3" height="4" fill="#0000FF"/>
<rect x="1073" y="553" width="1" height="37" fill="#0000FF"/>
<rect x="1072" y="555" width="3" height="21" fill="#0000FF"/>
<rect x="1077" y="539" width="1" height="27" fill="#0000FF"/>
<rect x="1076" y="557" width="3" height="3" fill="#0000FF"/>
<rect x="1081" y="542" width="1" height="25" fill="#0000FF"/>
<rect x="1080" y="557" width="3" height="4" fill="#0000FF"/>
<rect x="1085" y="542" width="1" height="22" fill="#0000FF"/>
<rect x="1084" y="551" width="3" height="13" fill="#0000FF"/>
<rect x="1089" y="544" width="1" height="32" fill="#DC143C"/>
<rect x="1088" y="551" width="3" height="7" fill="#DC143C"/>
<rect x="1089" y="552" width="1" height="5" fill="#FF0000"/>
<rect x="1093" y="551" width="1" height="36" fill="#DC143C"/>
<rect x="1092" y="557" width="3" height="15" fill="#DC143C"/>
<rect x="1093" y="558" width="1" height="13" fill="#FF0000"/>
<rect x="1097" y="559" width="1" height="17" fill="#0000FF"/>
<rect x="1096" y="572" width="3" height="3" fill="#0000FF"/>
<rect x="1101" y="557" width="1" height="31" fill="#DC143C"/>
<rect x="1100" y="570" width="3" height="17" fill="#DC143C"/>
<rect x="1101" y="571" width="1" height="15" fill="#FF0000"/>
<rect x="1105" y="583" width="1" height="35" fill="#DC143C"/>
<rect x="1104" y="586" width="3" height="9" fill="#DC143C"/>
<rect x="1105" y="587" width="1" height="7" fill="#FF0000"/>
<rect x="1109" y="575" width="1" height="29" fill="#DC143C"/>
<rect x="1108" y="593" width="3" height="10" fill="#DC143C"/>
<rect x="1109" y="594" width="1" height="8" fill="#FF0000"/>
<rect x="1113" y="571" width="1" height="34" fill="#0000FF"/>
<rect x="1112" y="591" width="3" height="13" fill="#0000FF"/>
<rect x="1117" y="531" width="1" height="63" fill="#0000FF"/>
<rect x="1116" y="536" width="3" height="57" fill="#0000FF"/>
<rect x="1121" y="512" width="1" height="51" fill="#0000FF"/>
<rect x="1120" y="518" width="3" height="26" fill="#0000FF"/>
<rect x="1125" y="495" width="1" height="31" fill="#0000FF"/>
<rect x="1124" y="507" width="3" height="9" fill="#0000FF"/>
<rect x="1129" y="492" width="1" height="54" fill="#DC143C"/>
<rect x="1128" y="508" width="3" height="37" fill="#DC143C"/>
<rect x="1129" y="509" width="1" height="35" fill="#FF0000"/>
<rect x="1133" y="512" width="1" height="30" fill="#0000FF"/>
<rect x="1132" y="533" width="3" height="5" fill="#0000FF"/>
<rect x="1137" y="469" width="1" height="67" fill="#0000FF"/>
<rect x="1136" y="470" width="3" height="64" fill="#0000FF"/>
<rect x="1141" y="456" width="1" height="33" fill="#DC143C"/>
<rect x="1140" y="472" width="3" height="13" fill="#DC143C"/>
<rect x="1141" y="473" width="1" height="11" fill="#FF0000"/>
<rect x="1145" y="474" width="1" height="37" fill="#DC143C"/>
<rect x="1144" y="493" width="3" height="6" fill="#DC143C"/>
<rect x="1145" y="494" width="1" height="4" fill="#FF0000"/>
<rect x="1149" y="485" width="1" height="47" fill="#DC143C"/>
<rect x="1148" y="497" width="3" height="32" fill="#DC143C"/>
<rect x="1149" y="498" width="1" height="30" fill="#FF0000"/>
<rect x="1153" y="519" width="1" height="35" fill="#DC143C"/>
<rect x="1152" y="528" width="3" height="8" fill="#DC143C"/>
<rect x="1153" y="529" width="1" height="6" fill="#FF0000"/>
<rect x="1157" y="520" width="1" height="26" fill="#DC143C"/>
<rect x="1156" y="525" width="3" height="19" fill="#DC143C"/>
<rect x="1157" y="526" width="1" height="17" fill="#FF0000"/>
<rect x="1161" y="530" width="1" height="67" fill="#DC143C"/>
<rect x="1160" y="550" width="3" height="47" fill="#DC143C"/>
<rect x="1161" y="551" width="1" height="45" fill="#FF0000"/>
<rect x="1165" y="558" width="1" height="33" fill="#0000FF"/>
<rect x="1164" y="572" width="3" height="14" fill="#0000FF"/>
<rect x="1169" y="565" width="1" height="41" fill="#DC143C"/>
<rect x="1168" y="567" width="3" height="36" fill="#DC143C"/>
<rect x="1169" y="568" width="1" height="34" fill="#FF0000"/>
<rect x="1173" y="566" width="1" height="61" fill="#0000FF"/>
<rect x="1172" y="573" width="3" height="44" fill="#0000FF"/>
<rect x="1177" y="568" width="1" height="50" fill="#DC143C"/>
<rect x="1176" y="575" width="3" height="15" fill="#DC143C"/>
<rect x="1177" y="576" width="1" height="13" fill="#FF0000"/>
<rect x="1181" y="542" width="1" height="50" fill="#0000FF"/>
<rect x="1180" y="543" width="3" height="47" fill="#0000FF"/>
<rect x="1185" y="528" width="1" height="26" fill="#0000FF"/>
<rect x="1184" y="534" width="3" height="9" fill="#0000FF"/>
<rect x="1189" y="506" width="1" height="48" fill="#DC143C"/>
<rect x="1188" y="535" width="3" height="18" fill="#DC143C"/>
<rect x="1189" y="536" width="1" height="16" fill="#FF0000"/>
<rect x="1193" y="543" width="1" height="38" fill="#DC143C"/>
<rect x="1192" y="551" width="3" height="11" fill="#DC143C"/>
<rect x="1193" y="552" width="1" height="9" fill="#FF0000"/>
<rect x="1197" y="526" width="1" height="53" fill="#0000FF"/>
<rect x="1196" y="540" width="3" height="19" fill="#0000FF"/>
<rect x="1201" y="478" width="1" height="70" fill="#0000FF"/>
<rect x="1200" y="496" width="3" height="46" fill="#0000FF"/>
<rect x="1205" y="487" width="1" height="58" fill="#DC143C"/>
<rect x="1204" y="496" width="3" height="38" fill="#DC143C"/>
<rect x="1205" y="497" width="1" height="36" fill="#FF0000"/>
<rect x="1209" y="498" width="1" height="55" fill="#0000FF"/>
<rect x="1208" y="509" width="3" height="25" fill="#0000FF"/>
<rect x="1213" y="509" width="1" height="30" fill="#DC143C"/>
<rect x="1212" y="509" width="3" height="26" fill="#DC143C"/>
<rect x="1213" y="510" width="1" height="24" fill="#FF0000"/>
<rect x="1217" y="487" width="1" height="47" fill="#0000FF"/>
<rect x="1216" y="503" width="3" height="26" fill="#0000FF"/>
<rect x="1221" y="456" width="1" height="60" fill="#0000FF"/>
<rect x="1220" y="465" width="3" height="39" fill="#0000FF"/>
<rect x="1225" y="450" width="1" height="39" fill="#DC143C"/>
<rect x="1224" y="468" width="3" height="18" fill="#DC143C"/>
<rect x="1225" y="469" width="1" height="16" fill="#FF0000"/>
<rect x="1229" y="440" width="1" height="54" fill="#0000FF"/>
<rect x="1228" y="452" width="3" height="35" fill="#0000FF"/>
<rect x="1233" y="449" width="1" height="51" fill="#DC143C"/>
<rect x="1232" y="451" width="3" height="15" fill="#DC143C"/>
<rect x="1233" y="452" width="1" height="13" fill="#FF0000"/>
<rect x="1237" y="455" width="1" height="50" fill="#DC143C"/>
<rect x="1236" y="464" width="3" height="34" fill="#DC143C"/>
<rect x="1237" y="465" width="1" height="32" fill="#FF0000"/>
<rect x="1241" y="468" width="1" height="39" fill="#0000FF"/>
<rect x="1240" y="500" width="3" height="4" fill="#0000FF"/>
<rect x="1245" y="488" width="1" height="26" fill="#DC143C"/>
<rect x="1244" y="499" width="3" height="15" fill="#DC143C"/>
<rect x="1245" y="500" width="1" height="13" fill="#FF0000"/>
<rect x="1249" y="500" width="1" height="27" fill="#DC143C"/>
<rect x="1248" y="513" width="3" height="7" fill="#DC143C"/>
<rect x="1249" y="514" width="1" height="5" fill="#FF0000"/>
<rect x="1253" y="486" width="1" height="35" fill="#0000FF"/>
<rect x="1252" y="498" width="3" height="21" fill="#0000FF"/>
<rect x="1257" y="451" width="1" height="52" fill="#0000FF"/>
<rect x="1256" y="453" width="3" height="45" fill="#0000FF"/>
<rect x="1261" y="438" width="1" height="40" fill="#DC143C"/>
<rect x="1260" y="441" width="3" height="33" fill="#DC143C"/>
<rect x="1261" y="442" width="1" height="31" fill="#FF0000"/>
<rect x="1265" y="457" width="1" height="24" fill="#DC143C"/>
<rect x="1264" y="471" width="3" height="10" fill="#DC143C"/>
<rect x="1265" y="472" width="1" height="8" fill="#FF0000"/>
<rect x="1269" y="468" width="1" height="36" fill="#DC143C"/>
<rect x="1268" y="490" width="3" height="9" fill="#DC143C"/>
<rect x="1269" y="491" width="1" height="7" fill="#FF0000"/>
<rect x="1273" y="493" width="1" height="26" fill="#DC143C"/>
<rect x="1272" y="497" width="3" height="20" fill="#DC143C"/>
<rect x="1273" y="498" width="1" height="18" fill="#FF0000"/>
<rect x="1277" y="507" width="1" height="18" fill="#DC143C"/>
<rect x="1276" y="512" width="3" height="6" fill="#DC143C"/>
<rect x="1277" y="513" width="1" height="4" fill="#FF0000"/>
<rect x="1281" y="494" width="1" height="26" fill="#0000FF"/>
<rect x="1280" y="502" width="3" height="18" fill="#0000FF"/>
<rect x="1285" y="490" width="1" height="23" fill="#0000FF"/>
<rect x="1284" y="493" width="3" height="12" fill="#0000FF"/>
<rect x="1289" y="494" width="1" height="38" fill="#DC143C"/>
<rect x="1288" y="497" width="3" height="34" fill="#DC143C"/>
<rect x="1289" y="498" width="1" height="32" fill="#FF0000"/>
<rect x="1293" y="518" width="1" height="36" fill="#DC143C"/>
<rect x="1292" y="530" width="3" height="15" fill="#DC143C"/>
<rect x="1293" y="531" width="1" height="13" fill="#FF0000"/>
<rect x="1297" y="532" width="1" height="18" fill="#DC143C"/>
<rect x="1296" y="542" width="3" height="7" fill="#DC143C"/>
<rect x="1297" y="543" width="1" height="5" fill="#FF0000"/>
<rect x="1301" y="546" width="1" height="33" fill="#DC143C"/>
<rect x="1300" y="548" width="3" height="18" fill="#DC143C"/>
<rect x="1301" y="549" width="1" height="16" fill="#FF0000"/>
<rect x="1305" y="539" width="1" height="36" fill="#0000FF"/>
<rect x="1304" y="546" width="3" height="20" fill="#0000FF"/>
<rect x="1309" y="545" width="1" height="42" fill="#DC143C"/>
<rect x="1308" y="546" width="3" height="6" fill="#DC143C"/>
<rect x="1309" y="547" width="1" height="4" fill="#FF0000"/>
<rect x="1313" y="515" width="1" height="55" fill="#DC143C"/>
<rect x="1312" y="553" width="3" height="17" fill="#DC143C"/>
<rect x="1313" y="554" width="1" height="15" fill="#FF0000"/>
<rect x="1317" y="542" width="1" height="29" fill="#0000FF"/>
<rect x="1316" y="547" width="3" height="17" fill="#0000FF"/>
<rect x="1321" y="515" width="1" height="45" fill="#0000FF"/>
<rect x="1320" y="516" width="3" height="30" fill="#0000FF"/>
<rect x="1325" y="510" width="1" height="26" fill="#DC143C"/>
<rect x="1324" y="511" width="3" height="22" fill="#DC143C"/>
<rect x="1325" y="512" width="1" height="20" fill="#FF0000"/>
<rect x="1329" y="524" width="1" height="37" fill="#DC143C"/>
<rect x="1328" y="531" width="3" height="14" fill="#DC143C"/>
<rect x="1329" y="532" width="1" height="12" fill="#FF0000"/>
<rect x="1333" y="518" width="1" height="37" fill="#0000FF"/>
<rect x="1332" y="519" width="3" height="27" fill="#0000FF"/>
<rect x="1337" y="482" width="1" height="50" fill="#0000FF"/>
<rect x="1336" y="489" width="3" height="30" fill="#0000FF"/>
<rect x="1341" y="487" width="1" height="35" fill="#DC143C"/>
<rect x="1340" y="492" width="3" height="30" fill="#DC143C"/>
<rect x="1341" y="493" width="1" height="28" fill="#FF0000"/>
<rect x="1345" y="489" width="1" height="34" fill="#0000FF"/>
<rect x="1344" y="515" width="3" height="3" fill="#0000FF"/>
<rect x="1349" y="460" width="1" height="69" fill="#0000FF"/>
<rect x="1348" y="470" width="3" height="43" fill="#0000FF"/>
<rect x="1353" y="414" width="1" height="65" fill="#0000FF"/>
<rect x="1352" y="434" width="3" height="37" fill="#0000FF"/>
<rect x="1357" y="432" width="1" height="22" fill="#DC143C"/>
<rect x="1356" y="436" width="3" height="13" fill="#DC143C"/>
<rect x="1357" y="437" width="1" height="11" fill="#FF0000"/>
<rect x="1361" y="441" width="1" height="24" fill="#DC143C"/>
<rect x="1360" y="449" width="3" height="10" fill="#DC143C"/>
<rect x="1361" y="450" width="1" height="8" fill="#FF0000"/>
<rect x="1365" y="455" width="1" height="22" fill="#DC143C"/>
<rect x="1364" y="460" width="3" height="8" fill="#DC143C"/>
<rect x="1365" y="461" width="1" height="6" fill="#FF0000"/>
<rect x="1369" y="422" width="1" height="44" fill="#0000FF"/>
<rect x="1368" y="435" width="3" height="30" fill="#0000FF"/>
<rect x="1373" y="416" width="1" height="22" fill="#DC143C"/>
<rect x="1372" y="431" width="3" height="5" fill="#DC143C"/>
<rect x="1373" y="432" width="1" height="3" fill="#FF0000"/>
<rect x="1377" y="408" width="1" height="30" fill="#0000FF"/>
<rect x="1376" y="412" width="3" height="22" fill="#0000FF"/>
<rect x="1381" y="394" width="1" height="43" fill="#0000FF"/>
<rect x="1380" y="403" width="3" height="16" fill="#0000FF"/>
<rect x="5" y="424" width="1867" height="1" fill="#FF0000"/>
<rect x="5" y="508" width="1867" height="1" fill="#FF0000"/>
<rect x="5" y="514" width="1867" height="1" fill="#FF0000"/>
<rect x="5" y="536" width="1867" height="1" fill="#FF0000"/>
<rect x="5" y="564" width="1867" height="1" fill="#FF0000"/>
<line x1="673.5" y1="578.5" x2="1385.5" y2="412.5" stroke="#FF0000" stroke-width="1"/>
<line x1="901.5" y1="740.5" x2="1549" y2="457.2" stroke="#FF0000" stroke-width="1"/>
<line x1="1257" y1="482.5" x2="1273" y2="482.5" stroke="#FF0000" stroke-width="1"/>
<line x1="1265.5" y1="461" x2="1275" y2="519" stroke="#FF0000" stroke-width="1"/>
<line x1="1253.5" y1="487" x2="1258" y2="505" stroke="#FF0000" stroke-width="1"/>
<polygon points="1380.5,3 1390.5,3 1385.5,8.5" fill="#008B8B" shape-rendering="auto"/>
<rect x="4" y="2" width="1869" height="1" fill="#000"/>
<rect x="4" y="903" width="1869" height="1" fill="#000"/>
<rect x="4" y="2" width="1" height="902" fill="#000"/>
<rect x="1872" y="2" width="1" height="902" fill="#000"/>
<rect x="0" y="0" width="1" height="924" fill="#A9A9A9"/>
<rect x="1" y="0" width="1" height="924" fill="#707070"/>
<rect x="2" y="0" width="1" height="924" fill="#FFFFFF"/>
<rect x="1918" y="0" width="1" height="924" fill="#E0E0E4"/>
<rect x="1919" y="0" width="1" height="924" fill="#FCFCFE"/>
<rect x="1873" y="9" width="2" height="1" fill="#000"/>
<rect x="1873" y="42" width="2" height="1" fill="#000"/>
<rect x="1873" y="75" width="2" height="1" fill="#000"/>
<rect x="1873" y="108" width="2" height="1" fill="#000"/>
<rect x="1873" y="141" width="2" height="1" fill="#000"/>
<rect x="1873" y="174" width="2" height="1" fill="#000"/>
<rect x="1873" y="207" width="2" height="1" fill="#000"/>
<rect x="1873" y="240" width="2" height="1" fill="#000"/>
<rect x="1873" y="273" width="2" height="1" fill="#000"/>
<rect x="1873" y="306" width="2" height="1" fill="#000"/>
<rect x="1873" y="339" width="2" height="1" fill="#000"/>
<rect x="1873" y="372" width="2" height="1" fill="#000"/>
<rect x="1873" y="405" width="2" height="1" fill="#000"/>
<rect x="1873" y="438" width="2" height="1" fill="#000"/>
<rect x="1873" y="471" width="2" height="1" fill="#000"/>
<rect x="1873" y="504" width="2" height="1" fill="#000"/>
<rect x="1873" y="537" width="2" height="1" fill="#000"/>
<rect x="1873" y="570" width="2" height="1" fill="#000"/>
<rect x="1873" y="603" width="2" height="1" fill="#000"/>
<rect x="1873" y="636" width="2" height="1" fill="#000"/>
<rect x="1873" y="669" width="2" height="1" fill="#000"/>
<rect x="1873" y="702" width="2" height="1" fill="#000"/>
<rect x="1873" y="735" width="2" height="1" fill="#000"/>
<rect x="1873" y="768" width="2" height="1" fill="#000"/>
<rect x="1873" y="801" width="2" height="1" fill="#000"/>
<rect x="1873" y="834" width="2" height="1" fill="#000"/>
<rect x="1873" y="867" width="2" height="1" fill="#000"/>
<rect x="1873" y="900" width="2" height="1" fill="#000"/>
<rect x="5" y="904" width="1" height="3" fill="#000"/>
<rect x="69" y="904" width="1" height="3" fill="#000"/>
<rect x="133" y="904" width="1" height="3" fill="#000"/>
<rect x="197" y="904" width="1" height="3" fill="#000"/>
<rect x="261" y="904" width="1" height="3" fill="#000"/>
<rect x="325" y="904" width="1" height="3" fill="#000"/>
<rect x="389" y="904" width="1" height="3" fill="#000"/>
<rect x="453" y="904" width="1" height="3" fill="#000"/>
<rect x="517" y="904" width="1" height="3" fill="#000"/>
<rect x="581" y="904" width="1" height="3" fill="#000"/>
<rect x="645" y="904" width="1" height="3" fill="#000"/>
<rect x="709" y="904" width="1" height="3" fill="#000"/>
<rect x="773" y="904" width="1" height="3" fill="#000"/>
<rect x="837" y="904" width="1" height="3" fill="#000"/>
<rect x="901" y="904" width="1" height="3" fill="#000"/>
<rect x="965" y="904" width="1" height="3" fill="#000"/>
<rect x="1029" y="904" width="1" height="3" fill="#000"/>
<rect x="1093" y="904" width="1" height="3" fill="#000"/>
<rect x="1157" y="904" width="1" height="3" fill="#000"/>
<rect x="1221" y="904" width="1" height="3" fill="#000"/>
<rect x="1285" y="904" width="1" height="3" fill="#000"/>
<rect x="1349" y="904" width="1" height="3" fill="#000"/>
<polygon points="8,9 15,9 11.5,13" fill="#000" shape-rendering="auto"/>
</svg>
<span class="s g" style="left:20px;top:5px;color:#000">GBPAUD,Weekly</span>
<span class="s n" style="left:99px;top:5px;color:#000">1.90643</span>
<span class="s n" style="left:135.4px;top:5px;color:#000">1.92780</span>
<span class="s n" style="left:171.6px;top:5px;color:#000">1.88971</span>
<span class="s n" style="left:207.5px;top:5px;color:#000">1.91944</span>
<span class="s a" style="left:1878px;top:4px;color:#000">2.27100</span>
<span class="s a" style="left:1878px;top:37px;color:#000">2.24125</span>
<span class="s a" style="left:1878px;top:70px;color:#000">2.21235</span>
<span class="s a" style="left:1878px;top:103px;color:#000">2.18260</span>
<span class="s a" style="left:1878px;top:136px;color:#000">2.15285</span>
<span class="s a" style="left:1878px;top:169px;color:#000">2.12395</span>
<span class="s a" style="left:1878px;top:202px;color:#000">2.09420</span>
<span class="s a" style="left:1878px;top:235px;color:#000">2.06530</span>
<span class="s a" style="left:1878px;top:268px;color:#000">2.03555</span>
<span class="s a" style="left:1878px;top:301px;color:#000">2.00580</span>
<span class="s a" style="left:1878px;top:334px;color:#000">1.97690</span>
<span class="s a" style="left:1878px;top:367px;color:#000">1.94715</span>
<span class="s a" style="left:1878px;top:400px;color:#000">1.91825</span>
<span class="s a" style="left:1878px;top:433px;color:#000">1.88850</span>
<span class="s a" style="left:1878px;top:466px;color:#000">1.85875</span>
<span class="s a" style="left:1878px;top:499px;color:#000">1.82985</span>
<span class="s a" style="left:1878px;top:532px;color:#000">1.80010</span>
<span class="s a" style="left:1878px;top:565px;color:#000">1.77035</span>
<span class="s a" style="left:1878px;top:598px;color:#000">1.74060</span>
<span class="s a" style="left:1878px;top:631px;color:#000">1.71170</span>
<span class="s a" style="left:1878px;top:664px;color:#000">1.68195</span>
<span class="s a" style="left:1878px;top:697px;color:#000">1.65220</span>
<span class="s a" style="left:1878px;top:730px;color:#000">1.62330</span>
<span class="s a" style="left:1878px;top:763px;color:#000">1.59355</span>
<span class="s a" style="left:1878px;top:796px;color:#000">1.56465</span>
<span class="s a" style="left:1878px;top:829px;color:#000">1.53490</span>
<span class="s a" style="left:1878px;top:862px;color:#000">1.50515</span>
<span class="s a" style="left:1878px;top:895px;color:#000">1.47625</span>
<div class="bx" style="top:502px;background:#FF0000"></div>
<span class="s a" style="left:1878px;top:503px;color:#fff">1.82574</span>
<div class="bx" style="top:508px;background:#FF0000"></div>
<span class="s a" style="left:1878px;top:509px;color:#fff">1.82001</span>
<div class="bx" style="top:530px;background:#FF0000"></div>
<span class="s a" style="left:1878px;top:531px;color:#fff">1.80101</span>
<div class="bx" style="top:558px;background:#FF0000"></div>
<span class="s a" style="left:1878px;top:559px;color:#fff">1.77608</span>
<div class="bx" style="top:418px;background:#FF0000"></div>
<span class="s a" style="left:1878px;top:419px;color:#fff">1.90067</span>
<div class="bx" style="top:398px;background:#000"></div>
<span class="s a" style="left:1878px;top:398px;color:#fff">1.91944</span>
<span class="s d" style="left:3px;top:907px;color:#000">28 Apr 2013</span>
<span class="s d" style="left:67px;top:907px;color:#000">18 Aug 2013</span>
<span class="s d" style="left:131px;top:907px;color:#000">8 Dec 2013</span>
<span class="s d" style="left:195px;top:907px;color:#000">30 Mar 2014</span>
<span class="s d" style="left:259px;top:907px;color:#000">20 Jul 2014</span>
<span class="s d" style="left:323px;top:907px;color:#000">9 Nov 2014</span>
<span class="s d" style="left:387px;top:907px;color:#000">1 Mar 2015</span>
<span class="s d" style="left:451px;top:907px;color:#000">21 Jun 2015</span>
<span class="s d" style="left:515px;top:907px;color:#000">11 Oct 2015</span>
<span class="s d" style="left:579px;top:907px;color:#000">31 Jan 2016</span>
<span class="s d" style="left:643px;top:907px;color:#000">22 May 2016</span>
<span class="s d" style="left:707px;top:907px;color:#000">11 Sep 2016</span>
<span class="s d" style="left:771px;top:907px;color:#000">1 Jan 2017</span>
<span class="s d" style="left:835px;top:907px;color:#000">23 Apr 2017</span>
<span class="s d" style="left:899px;top:907px;color:#000">13 Aug 2017</span>
<span class="s d" style="left:963px;top:907px;color:#000">3 Dec 2017</span>
<span class="s d" style="left:1027px;top:907px;color:#000">25 Mar 2018</span>
<span class="s d" style="left:1091px;top:907px;color:#000">15 Jul 2018</span>
<span class="s d" style="left:1155px;top:907px;color:#000">4 Nov 2018</span>
<span class="s d" style="left:1219px;top:907px;color:#000">24 Feb 2019</span>
<span class="s d" style="left:1283px;top:907px;color:#000">16 Jun 2019</span>
<span class="s d" style="left:1347px;top:907px;color:#000">6 Oct 2019</span>
<div id="wm">«FreshForex Terminal © 2001 - 2019, MetaQuotes Software Corp.»</div>
</div></body></html>
